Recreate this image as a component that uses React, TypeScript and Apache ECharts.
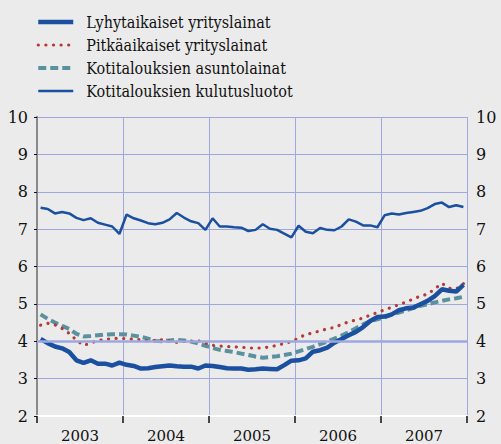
import React, { useEffect, useRef } from "react";
import * as echarts from "echarts";

const years = ["2003", "2004", "2005", "2006", "2007"];

const seriesNames = [
  "Lyhytaikaiset yrityslainat",
  "Pitkäaikaiset yrityslainat",
  "Kotitalouksien asuntolainat",
  "Kotitalouksien kulutusluotot",
];

// Monthly values, Jan 2003 .. Dec 2007
const shortCorporate = [
  4.06, 3.95, 3.86, 3.81, 3.71, 3.49, 3.42, 3.49, 3.40, 3.40, 3.35, 3.43,
  3.37, 3.34, 3.27, 3.28, 3.31, 3.33, 3.35, 3.33, 3.32, 3.32, 3.27, 3.35,
  3.34, 3.31, 3.28, 3.27, 3.27, 3.24, 3.25, 3.27, 3.26, 3.25, 3.36, 3.48,
  3.49, 3.54, 3.72, 3.76, 3.83, 3.96, 4.06, 4.16, 4.25, 4.38, 4.54, 4.65,
  4.66, 4.72, 4.83, 4.88, 4.90, 4.99, 5.08, 5.21, 5.39, 5.35, 5.33, 5.51,
];

const longCorporate = [
  4.43, 4.48, 4.44, 4.34, 4.21, 4.03, 3.89, 3.95, 4.02, 4.05, 4.07, 4.08,
  4.07, 4.05, 4.04, 4.00, 4.02, 4.04, 4.01, 3.97, 4.00, 4.00, 4.01, 3.95,
  3.89, 3.87, 3.86, 3.85, 3.84, 3.82, 3.82, 3.82, 3.85, 3.89, 3.94, 3.99,
  4.09, 4.18, 4.22, 4.28, 4.33, 4.37, 4.45, 4.52, 4.57, 4.62, 4.70, 4.77,
  4.84, 4.91, 4.98, 5.05, 5.13, 5.21, 5.26, 5.40, 5.55, 5.42, 5.40, 5.54,
];

const housingLoans = [
  4.72, 4.60, 4.50, 4.41, 4.33, 4.20, 4.13, 4.14, 4.16, 4.18, 4.19, 4.19,
  4.18, 4.15, 4.12, 4.07, 4.01, 4.00, 4.02, 4.04, 4.02, 3.99, 3.94, 3.88,
  3.82, 3.77, 3.74, 3.71, 3.67, 3.63, 3.59, 3.56, 3.58, 3.60, 3.63, 3.67,
  3.73, 3.79, 3.85, 3.92, 3.99, 4.07, 4.15, 4.24, 4.35, 4.45, 4.54, 4.59,
  4.64, 4.71, 4.77, 4.83, 4.89, 4.95, 4.99, 5.04, 5.08, 5.12, 5.15, 5.19,
];

const consumerCredit = [
  7.57, 7.54, 7.42, 7.46, 7.42, 7.30, 7.24, 7.29, 7.17, 7.12, 7.07, 6.87,
  7.39, 7.29, 7.23, 7.16, 7.13, 7.17, 7.26, 7.43, 7.31, 7.21, 7.16, 6.98,
  7.29, 7.07, 7.07, 7.05, 7.04, 6.95, 6.98, 7.13, 7.01, 6.98, 6.88, 6.78,
  7.09, 6.93, 6.89, 7.03, 6.98, 6.97, 7.07, 7.26, 7.20, 7.10, 7.10, 7.05,
  7.37, 7.42, 7.39, 7.43, 7.46, 7.49, 7.56, 7.67, 7.71, 7.59, 7.64, 7.59,
];

const yTicks = [2, 3, 4, 5, 6, 7, 8, 9, 10];

const BLUE = "#1b4f9f";
const RED = "#b33a36";
const TEAL = "#5b919e";
const GRID = "#9ea7df";
const BG = "#ebebeb";
const LEGEND_FONT = "DejaVu Serif Condensed";
const AXIS_FONT = "DejaVu Serif";

const toPoints = (arr: number[]) => arr.map((v, i) => [i + 0.5, v]);

export default function App() {
  const ref = useRef<HTMLDivElement>(null);

  useEffect(() => {
    if (!ref.current) return;
    const chart = echarts.init(ref.current, undefined, { renderer: "svg" });
    const months = years.length * 12;
    const option: any = {
      animation: false,
      backgroundColor: BG,
      grid: { left: 37, top: 117, width: 430, height: 299 },
      legend: {
        orient: "vertical",
        left: 36,
        top: 14,
        padding: 0,
        itemWidth: 35,
        itemHeight: 14,
        itemGap: 7,
        data: [
          { name: seriesNames[0], lineStyle: { width: 4.5 } },
          { name: seriesNames[1], lineStyle: { width: 3.2 } },
          { name: seriesNames[2], lineStyle: { width: 4 } },
          { name: seriesNames[3], lineStyle: { width: 2.5 } },
        ],
        itemStyle: { color: "rgba(0,0,0,0)", borderWidth: 0, opacity: 0 },
        textStyle: {
          fontFamily: LEGEND_FONT,
          fontSize: 16,
          color: "#111",
          padding: [0, 0, 0, 8],
        },
      },
      xAxis: [
        {
          type: "value",
          min: 0,
          max: months,
          interval: 12,
          axisLine: { show: true, lineStyle: { color: "#ffffff", width: 2 } },
          axisTick: { show: true, length: 7, lineStyle: { color: "#111", width: 1.5 } },
          axisLabel: { show: false },
          splitLine: { show: true, lineStyle: { color: GRID, width: 1 } },
        },
        {
          type: "value",
          min: 0,
          max: months,
          interval: 6,
          position: "bottom",
          axisLine: { show: false },
          axisTick: { show: false },
          splitLine: { show: false },
          axisLabel: {
            show: true,
            margin: 12,
            fontFamily: AXIS_FONT,
            fontSize: 15,
            color: "#111",
            formatter: (v: number) =>
              v % 12 === 6 ? years[(v - 6) / 12] : "",
          },
        },
      ],
      yAxis: [
        {
          type: "value",
          min: yTicks[0],
          max: yTicks[yTicks.length - 1],
          interval: 1,
          position: "left",
          axisLine: { show: true, lineStyle: { color: "#111", width: 1.5 } },
          axisTick: { show: true, length: 3, lineStyle: { color: "#111" } },
          axisLabel: { margin: 9, fontFamily: AXIS_FONT, fontSize: 16, color: "#111" },
          splitLine: { show: true, lineStyle: { color: GRID, width: 1 } },
        },
        {
          type: "value",
          min: yTicks[0],
          max: yTicks[yTicks.length - 1],
          interval: 1,
          position: "right",
          axisLine: { show: true, lineStyle: { color: "#8a8a8a", width: 2 } },
          axisTick: { show: false },
          axisLabel: { margin: 9, fontFamily: AXIS_FONT, fontSize: 16, color: "#111" },
          splitLine: { show: false },
        },
      ],
      series: [
        {
          type: "line",
          name: "_ref4",
          data: [],
          z: 1,
          silent: true,
          markLine: {
            silent: true,
            symbol: "none",
            label: { show: false },
            lineStyle: { color: GRID, width: 2.5, type: "solid" },
            data: [{ yAxis: 4 }],
          },
        },
        {
          type: "line",
          name: seriesNames[2],
          data: toPoints(housingLoans),
          showSymbol: false,
          symbol: "none",
          color: TEAL,
          lineStyle: { color: TEAL, width: 4, type: [8, 4], cap: "butt" },
          z: 2,
        },
        {
          type: "line",
          name: seriesNames[1],
          data: toPoints(longCorporate),
          showSymbol: false,
          symbol: "none",
          color: RED,
          lineStyle: { color: RED, width: 3.2, type: [0.1, 7.5], cap: "round" },
          z: 3,
        },
        {
          type: "line",
          name: seriesNames[0],
          data: toPoints(shortCorporate),
          showSymbol: false,
          symbol: "none",
          color: BLUE,
          lineStyle: { color: BLUE, width: 4.5 },
          z: 4,
        },
        {
          type: "line",
          name: seriesNames[3],
          data: toPoints(consumerCredit),
          showSymbol: false,
          symbol: "none",
          color: BLUE,
          lineStyle: { color: BLUE, width: 2.5 },
          z: 4,
        },
      ],
    };
    chart.setOption(option);
    return () => chart.dispose();
  }, []);

  return (
    <div
      ref={ref}
      style={{ position: "fixed", left: 0, top: 0, width: 501, height: 444 }}
    />
  );
}
